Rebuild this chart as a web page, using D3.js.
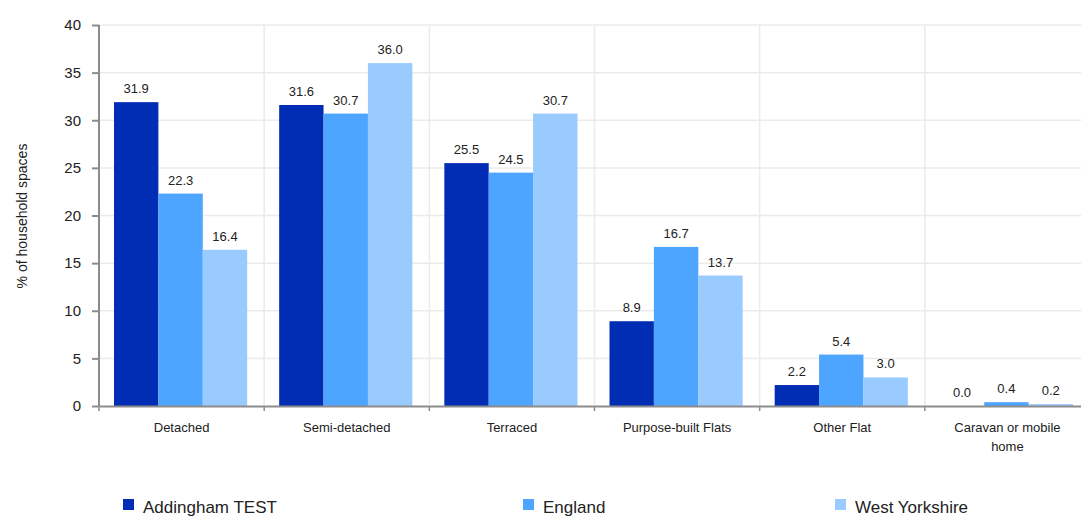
<!DOCTYPE html>
<html>
<head>
<meta charset="utf-8">
<script src="https://cdn.jsdelivr.net/npm/d3@7"></script>
<style>
  body { margin: 0; background: #fff; }
  svg { font-family: "Liberation Sans", Arial, sans-serif; }
</style>
</head>
<body>
<svg id="chart"></svg>
<script>
// data
var categories = ["Detached", "Semi-detached", "Terraced", "Purpose-built Flats", "Other Flat", "Caravan or mobile home"];
var seriesNames = ["Addingham TEST", "England", "West Yorkshire"];
var addingham = [31.9, 31.6, 25.5, 8.9, 2.2, 0.0];
var england = [22.3, 30.7, 24.5, 16.7, 5.4, 0.4];
var westYorkshire = [16.4, 36.0, 30.7, 13.7, 3.0, 0.2];
var yTicks = [0, 5, 10, 15, 20, 25, 30, 35, 40];

var colors = ["#002db4", "#4ea5ff", "#9acbff"];
var seriesValues = [addingham, england, westYorkshire];

var width = 1081, height = 518;
var plotLeft = 99, plotRight = 1090, plotTop = 25, plotBottom = 406;

var svg = d3.select("#chart").attr("width", width).attr("height", height);

var x0 = d3.scaleBand().domain(categories).range([plotLeft, plotRight]).padding(0);
var x1 = d3.scaleBand().domain(seriesNames).range([15, x0.bandwidth() - 17]).padding(0);
var y = d3.scaleLinear().domain([0, 40]).range([plotBottom, plotTop]);

// grid
svg.append("g").selectAll("line").data(yTicks.slice(1)).enter().append("line")
  .attr("x1", plotLeft).attr("x2", plotRight)
  .attr("y1", function (d) { return y(d); }).attr("y2", function (d) { return y(d); })
  .attr("stroke", "#ebebeb").attr("stroke-width", 1.5);

svg.append("g").selectAll("line").data(categories.slice(1)).enter().append("line")
  .attr("x1", function (d) { return x0(d); }).attr("x2", function (d) { return x0(d); })
  .attr("y1", plotTop).attr("y2", plotBottom)
  .attr("stroke", "#ebebeb").attr("stroke-width", 1.5);

// bars
var groups = svg.append("g").selectAll("g").data(categories).enter().append("g")
  .attr("transform", function (d) { return "translate(" + x0(d) + ",0)"; });

groups.selectAll("rect")
  .data(function (d, i) {
    return seriesNames.map(function (s, j) { return { s: s, v: seriesValues[j][i], c: colors[j] }; });
  })
  .enter().append("rect")
  .attr("x", function (d) { return x1(d.s); })
  .attr("width", x1.bandwidth())
  .attr("y", function (d) { return y(d.v); })
  .attr("height", function (d) { return plotBottom - y(d.v); })
  .attr("fill", function (d) { return d.c; });

groups.selectAll("text")
  .data(function (d, i) {
    return seriesNames.map(function (s, j) { return { s: s, v: seriesValues[j][i] }; });
  })
  .enter().append("text")
  .attr("x", function (d) { return x1(d.s) + x1.bandwidth() / 2; })
  .attr("y", function (d) { return y(d.v) - 9; })
  .attr("text-anchor", "middle")
  .attr("font-size", 13)
  .attr("fill", "#222")
  .text(function (d) { return d.v.toFixed(1); });

// y axis
var yAxis = svg.append("g").attr("transform", "translate(" + plotLeft + ",0)")
  .call(d3.axisLeft(y).tickValues(yTicks).tickSize(7).tickPadding(11));
yAxis.selectAll("text").attr("font-size", 15).attr("fill", "#222").attr("font-family", "Liberation Sans, Arial, sans-serif");
yAxis.selectAll("line").attr("stroke", "#8c8c8c").attr("stroke-width", 2);
yAxis.select(".domain").attr("stroke", "#8c8c8c").attr("stroke-width", 2).attr("d", "M0," + plotTop + "V" + plotBottom);

// x axis
var xAxis = svg.append("g").attr("transform", "translate(0," + plotBottom + ")")
  .call(d3.axisBottom(x0).tickSize(0).tickFormat(""));
xAxis.select(".domain").attr("stroke", "#8c8c8c").attr("stroke-width", 2);
xAxis.selectAll(".tick").remove();

svg.append("g").selectAll("line").data(categories).enter().append("line")
  .attr("x1", function (d) { return x0(d); }).attr("x2", function (d) { return x0(d); })
  .attr("y1", plotBottom).attr("y2", plotBottom + 5)
  .attr("stroke", "#8c8c8c").attr("stroke-width", 1.5);

var catLabels = svg.append("g").selectAll("text").data(categories).enter().append("text")
  .attr("x", function (d) { return x0(d) + x0.bandwidth() / 2; })
  .attr("y", plotBottom + 26)
  .attr("text-anchor", "middle")
  .attr("font-size", 13)
  .attr("fill", "#222");
catLabels.each(function (d) {
  var t = d3.select(this);
  var lines = d === "Caravan or mobile home" ? ["Caravan or mobile", "home"] : [d];
  lines.forEach(function (l, i) {
    t.append("tspan").attr("x", x0(d) + x0.bandwidth() / 2).attr("dy", i ? 19 : 0).text(l);
  });
});

// y label
svg.append("text")
  .attr("transform", "translate(27,216) rotate(-90)")
  .attr("text-anchor", "middle")
  .attr("font-size", 14)
  .attr("fill", "#222")
  .text("% of household spaces");

// legend
var legendX = [123, 523, 835];
var legend = svg.append("g").selectAll("g").data(seriesNames).enter().append("g")
  .attr("transform", function (d, i) { return "translate(" + legendX[i] + ",499)"; });
legend.append("rect").attr("width", 11).attr("height", 11)
  .attr("fill", function (d, i) { return colors[i]; });
legend.append("text").attr("x", 20).attr("y", 14)
  .attr("font-size", 17).attr("fill", "#222")
  .text(function (d) { return d; });
</script>
</body>
</html>
